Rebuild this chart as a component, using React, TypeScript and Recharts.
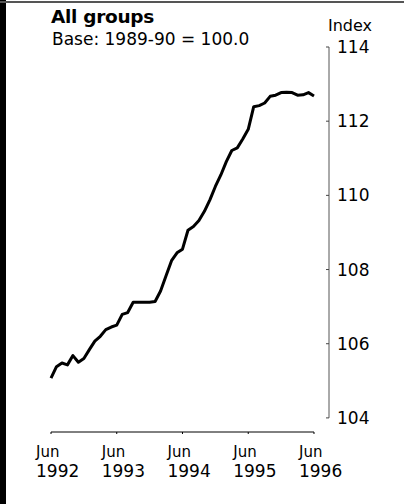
import React from 'react';
import { LineChart, Line, XAxis, YAxis, ReferenceLine } from 'recharts';

// monthly index, Jun 1992 .. Jun 1996 (base 1989-90 = 100.0)
const months = [
  'Jun 1992', 'Jul 1992', 'Aug 1992', 'Sep 1992', 'Oct 1992', 'Nov 1992', 'Dec 1992',
  'Jan 1993', 'Feb 1993', 'Mar 1993', 'Apr 1993', 'May 1993', 'Jun 1993', 'Jul 1993',
  'Aug 1993', 'Sep 1993', 'Oct 1993', 'Nov 1993', 'Dec 1993', 'Jan 1994', 'Feb 1994',
  'Mar 1994', 'Apr 1994', 'May 1994', 'Jun 1994', 'Jul 1994', 'Aug 1994', 'Sep 1994',
  'Oct 1994', 'Nov 1994', 'Dec 1994', 'Jan 1995', 'Feb 1995', 'Mar 1995', 'Apr 1995',
  'May 1995', 'Jun 1995', 'Jul 1995', 'Aug 1995', 'Sep 1995', 'Oct 1995', 'Nov 1995',
  'Dec 1995', 'Jan 1996', 'Feb 1996', 'Mar 1996', 'Apr 1996', 'May 1996', 'Jun 1996',
];
const allGroups = [
  105.07, 105.38, 105.48, 105.43, 105.68, 105.5, 105.6,
  105.84, 106.07, 106.2, 106.38, 106.45, 106.5, 106.79,
  106.84, 107.12, 107.12, 107.12, 107.12, 107.14, 107.42,
  107.83, 108.24, 108.45, 108.55, 109.06, 109.16, 109.32,
  109.57, 109.88, 110.24, 110.55, 110.91, 111.21, 111.28,
  111.52, 111.78, 112.39, 112.42, 112.49, 112.67, 112.7,
  112.77, 112.78, 112.77, 112.7, 112.71, 112.77, 112.68,
];
const xTicks = [0, 12, 24, 36, 48];
const xTickMonth = ['Jun', 'Jun', 'Jun', 'Jun', 'Jun'];
const xTickYear = ['1992', '1993', '1994', '1995', '1996'];
const yTicks = [104, 106, 108, 110, 112, 114];

const data = allGroups.map((v, i) => ({ m: i, label: months[i], index: v }));

const FONT = '"DejaVu Sans", sans-serif';
const X_MAX = 50.74; // leaves the gap between the last month and the index axis
const Y_MIN = 103.62; // x axis sits a little below 104

const XTick = (props: any) => {
  const { x, y, payload } = props;
  const i = xTicks.indexOf(payload.value);
  return (
    <g>
      <text x={x - 15} y={y + 23} fontFamily={FONT} fontSize={15} fill="#000">
        {xTickMonth[i]}
      </text>
      <text x={x - 15} y={y + 43} fontFamily={FONT} fontSize={17} fill="#000">
        {xTickYear[i]}
      </text>
    </g>
  );
};

const YTick = (props: any) => {
  const { x, y, payload } = props;
  return (
    <g>
      <line x1={x - 11} x2={x - 8} y1={y} y2={y} stroke="#444" strokeWidth={1} />
      <text x={x} y={y} dy="0.36em" fontFamily={FONT} fontSize={17} fill="#000">
        {payload.value}
      </text>
    </g>
  );
};

export default function App() {
  return (
    <div style={{ position: 'absolute', left: 0, top: 0, width: 404, height: 504, background: '#fff', overflow: 'hidden' }}>
      <div style={{ position: 'absolute', left: 0, top: 0, width: 6, height: 504, background: '#000' }} />
      <div style={{ position: 'absolute', left: 0, top: 1, width: 404, height: 2, background: '#555' }} />
      <div style={{ position: 'absolute', left: 51, top: 6, fontFamily: FONT, fontWeight: 900, fontSize: 18.5, color: '#000', letterSpacing: -0.3 }}>
        All groups
      </div>
      <div style={{ position: 'absolute', left: 52, top: 29, fontFamily: FONT, fontSize: 17, color: '#000', whiteSpace: 'nowrap' }}>
        Base: 1989-90 = 100.0
      </div>
      <div style={{ position: 'absolute', left: 328, top: 16, fontFamily: FONT, fontSize: 16, color: '#000' }}>
        Index
      </div>
      <LineChart width={404} height={504} data={data} margin={{ top: 47, right: 15, left: 51, bottom: 27 }}>
        <XAxis
          type="number"
          dataKey="m"
          domain={[0, X_MAX]}
          ticks={xTicks}
          axisLine={false}
          tickLine={{ stroke: '#000' }}
          tickSize={2}
          tickMargin={0}
          height={45}
          tick={<XTick />}
          interval={0}
        />
        <YAxis
          orientation="right"
          domain={[Y_MIN, 114]}
          ticks={yTicks}
          axisLine={false}
          tickLine={false}
          tickSize={6}
          tickMargin={2}
          width={60}
          tick={<YTick />}
          interval={0}
          allowDataOverflow
        />
        <ReferenceLine segment={[{ x: 0, y: Y_MIN }, { x: 48, y: Y_MIN }]} stroke="#000" strokeWidth={1} />
        <ReferenceLine segment={[{ x: X_MAX, y: 104 }, { x: X_MAX, y: 114 }]} stroke="#555" strokeWidth={1} />
        <Line
          type="linear"
          dataKey="index"
          stroke="#000"
          strokeWidth={3}
          strokeLinejoin="round"
          dot={false}
          isAnimationActive={false}
        />
      </LineChart>
    </div>
  );
}
